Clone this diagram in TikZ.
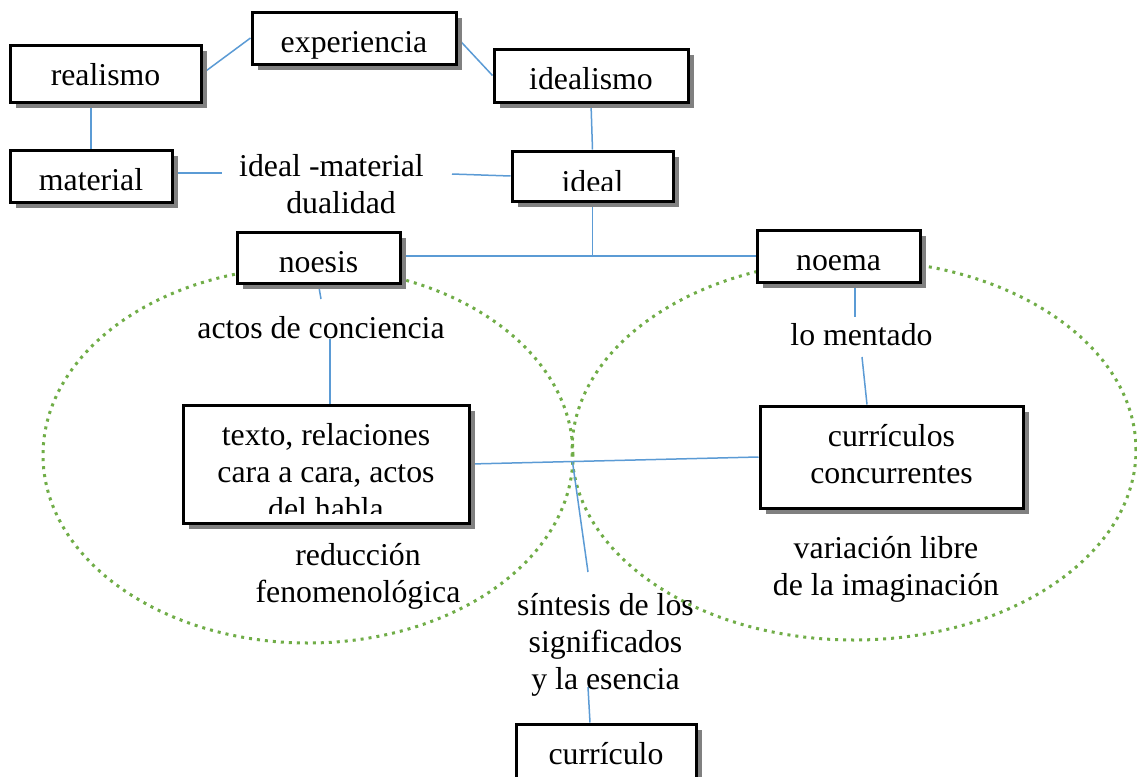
\documentclass[tikz,border=0pt]{standalone}
\usepackage{fontspec}
\setmainfont{Liberation Serif}
\usetikzlibrary{shadows,backgrounds,calc}
\newcommand{\diagfont}{\fontsize{15.9}{18.5}\selectfont}
\newcommand{\mlines}[1]{\begin{tabular}[t]{@{}c@{}}#1\end{tabular}}
\definecolor{conn}{HTML}{5B9BD5}
\definecolor{oval}{HTML}{70AD47}
\tikzset{
  box/.style={draw=black, line width=1.5pt, fill=white, inner sep=0pt, font=\diagfont,
    text height=20pt,
    drop shadow={shadow xshift=3pt, shadow yshift=-3pt, fill=black!50, opacity=1}},
  txt/.style={font=\diagfont, inner sep=0pt},
  link/.style={draw=conn, line width=0.75pt},
  ring/.style={draw=oval, line width=1.5pt, dash pattern=on 1.5pt off 2.5pt},
}
\begin{document}
\begin{tikzpicture}[x=0.5pt,y=-0.5pt]
\useasboundingbox (0,0) rectangle (1137,777);

% boxes
\node[box, minimum width=95.5pt, minimum height=28.5pt, text depth=8.5pt] (realismo) at (105.5,73.5) {realismo};
\node[box, minimum width=102pt, minimum height=26pt, text depth=6pt] (experiencia) at (354,38) {experiencia};
\node[box, minimum width=97pt, minimum height=26.5pt, text depth=6.5pt] (idealismo) at (591,75.5) {idealismo};
\node[box, minimum width=81pt, minimum height=26pt, text depth=6pt] (material) at (91,176) {material};
\node[box, minimum width=80.5pt, minimum height=25pt, text depth=0pt,
  path picture={
    \clip (path picture bounding box.north west) rectangle ([yshift=5.5pt]path picture bounding box.south east);
    \node[txt, anchor=base] (idealtext) at ([yshift=-20.5pt]path picture bounding box.north) {ideal};
  }] (ideal) at (592.5,176) {};
\node[box, minimum width=81.5pt, minimum height=25.5pt, text depth=5.5pt] (noesis) at (318.5,257.5) {noesis};
\node[box, minimum width=81.5pt, minimum height=26pt, text depth=6pt] (noema) at (838.5,256) {noema};
\node[box, minimum width=143pt, minimum height=59pt, text depth=0pt,
  path picture={
    \clip (path picture bounding box.north west) rectangle ([yshift=5pt]path picture bounding box.south east);
    \node[txt, anchor=base] (textotext) at ([yshift=-20pt]path picture bounding box.north)
      {\mlines{texto, relaciones\\cara a cara, actos\\del habla}};
  }] (texto) at (326,464) {};
\node[box, minimum width=131.5pt, minimum height=51pt, text depth=31pt] (curriculos) at (891.5,457)
  {\mlines{currículos\\concurrentes}};
\node[box, minimum width=90pt, minimum height=30pt, text depth=10pt] (curriculo) at (606,754) {currículo};

% free texts
\node[txt, anchor=base] (dual) at (341,176) {\mlines{ideal -material\hspace*{9.5pt}\\dualidad}};
\node[txt, anchor=base] (actos) at (321,338) {actos de conciencia};
\node[txt, anchor=base] (mentado) at (861.5,345) {lo mentado};
\node[txt, anchor=base] (reduccion) at (358,565) {\mlines{reducción\\fenomenológica}};
\node[txt, anchor=base] (variacion) at (886,558) {\mlines{variación libre\\de la imaginación}};
\node[txt, anchor=base] (sintesis) at (605.5,615) {\mlines{síntesis de los\\significados\\y la esencia}};

% free ends
\coordinate (dualL) at (222,173);
\coordinate (dualR) at (452,174);
\coordinate (a1) at (321,299);
\coordinate (a2) at (330,339);
\coordinate (b1) at (855,317);
\coordinate (b2) at (862,357);
\coordinate (c2) at (588,572);
\coordinate (d1) at (588,687);

\begin{pgfonlayer}{background}
  \fill[white] (0,0) rectangle (1137,777);
  \draw[ring] (308,455) ellipse [x radius=132.5pt, y radius=94pt];
  \draw[ring] (854,450) ellipse [x radius=141pt, y radius=95pt];

  \draw[link] (realismo.east) -- (experiencia.west);
  \draw[link] (experiencia.east) -- (idealismo.west);
  \draw[link] (material.north) -- (material.north |- realismo.south);
  \draw[link] (idealismo.south) -- (ideal.north);
  \draw[link] (material.east |- dualL) -- (dualL);
  \draw[link] (dualR) -- (ideal.west);
  \draw[link] (ideal.south) -- (ideal.south |- noema.west);
  \draw[link] (noesis.east |- noema.west) -- (noema.west);
  \draw[link] (noesis.south) -- (a1);
  \draw[link] (a2) -- (a2 |- texto.north);
  \draw[link] (noema.south -| b1) -- (b1);
  \draw[link] (b2) -- ([xshift=-12.25pt]curriculos.north);
  \draw[link] (texto.east) -- (curriculos.west);
  \draw[link] ($(texto.east)!0.354!(curriculos.west)$) -- (c2);
  \draw[link] (d1) -- ([xshift=-8pt]curriculo.north);
\end{pgfonlayer}
\end{tikzpicture}
\end{document}
